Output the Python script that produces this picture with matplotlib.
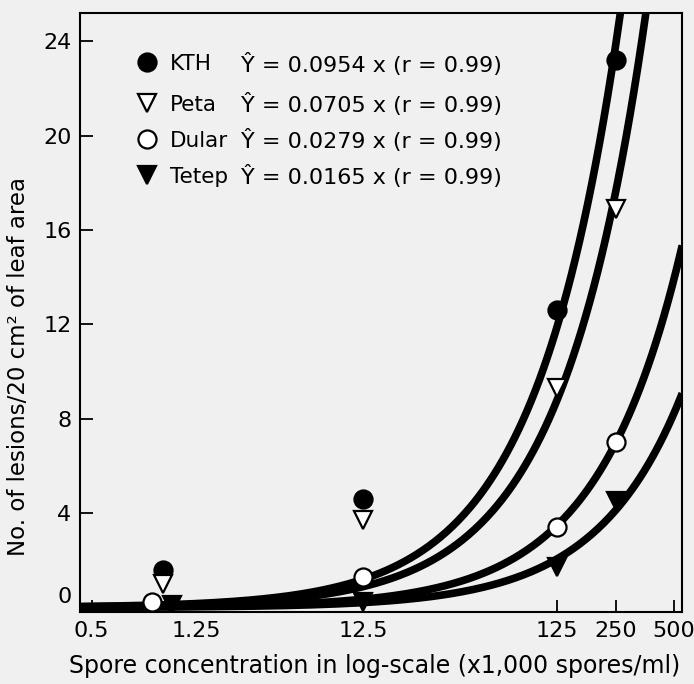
import numpy as np
import matplotlib.pyplot as plt
from matplotlib.transforms import ScaledTranslation

plt.rcParams['font.family'] = ['DejaVu Sans']

# spore concentration (x1,000 spores/ml) and lesion counts
KTH_X = [1.16, 12.5, 125, 250]
KTH_Y = [1.6, 4.6, 12.6, 23.2]
PETA_X = [1.16, 12.5, 125, 250]
PETA_Y = [1.0, 3.7, 9.3, 16.9]
DULAR_X = [1.02, 12.5, 125, 250]
DULAR_Y = [0.25, 1.3, 3.4, 7.0]
TETEP_X = [1.30, 12.5, 125, 250]
TETEP_Y = [0.1, 0.25, 1.7, 4.5]

NAMES = ['KTH', 'Peta', 'Dular', 'Tetep']
SLOPES = [0.0954, 0.0705, 0.0279, 0.0165]
EQS = ['Ŷ = 0.0954 x (r = 0.99)', 'Ŷ = 0.0705 x (r = 0.99)',
       'Ŷ = 0.0279 x (r = 0.99)', 'Ŷ = 0.0165 x (r = 0.99)']

XTICKS = [0.5, 1.25, 12.5, 125, 250, 500]
XTICKLABELS = ['0.5', '1.25', '12.5', '125', '250', '500']
YTICKS = [0, 4, 8, 12, 16, 20, 24]

MARKERS = ['o', 'v', 'o', 'v']
FACES = ['black', 'white', 'white', 'black']
BG = '#f0f0f0'

fig = plt.figure(figsize=(6.94, 6.84), dpi=100, facecolor=BG)
ax = fig.add_axes([0.115, 0.105, 0.868, 0.876], facecolor=BG)

XMIN, XMAX = 0.435, 550
ax.set_xscale('log')
ax.set_xlim(XMIN, XMAX)
ax.set_ylim(-0.2, 25.2)

xs = np.logspace(np.log10(XMIN), np.log10(XMAX), 300)
for a in SLOPES:
    ax.plot(xs, a * xs, color='black', lw=5.5, solid_capstyle='butt', zorder=2)

data = [(KTH_X, KTH_Y), (PETA_X, PETA_Y), (DULAR_X, DULAR_Y), (TETEP_X, TETEP_Y)]
for i, (x, y) in enumerate(data):
    ax.plot(x, y, ls='none', marker=MARKERS[i], ms=13, mfc=FACES[i],
            mec='black', mew=1.6, zorder=3)

# legend block
rows = [0.918, 0.850, 0.790, 0.730]
for i in range(4):
    ax.plot([0.111], [rows[i]], transform=ax.transAxes, marker=MARKERS[i], ms=13,
            mfc=FACES[i], mec='black', mew=1.6, ls='none')
    ax.text(0.150, rows[i], NAMES[i], transform=ax.transAxes, fontsize=15.5,
            va='center_baseline', ha='left')
    ax.text(0.268, rows[i], EQS[i], transform=ax.transAxes, fontsize=16,
            va='center_baseline', ha='left')

ax.set_xticks(XTICKS)
ax.set_xticklabels(XTICKLABELS)
ax.minorticks_off()
ax.set_yticks(YTICKS)
ax.tick_params(direction='in', length=9, width=1.3, labelsize=16, pad=6)
for s in ax.spines.values():
    s.set_linewidth(1.5)

# hand-placed labels in the original
xl = ax.get_xticklabels()
xl[1].set_transform(xl[1].get_transform() + ScaledTranslation(0.27, 0, fig.dpi_scale_trans))
yl = ax.get_yticklabels()
yl[0].set_transform(yl[0].get_transform() + ScaledTranslation(0, 0.12, fig.dpi_scale_trans))

ax.set_ylabel('No. of lesions/20 cm² of leaf area', fontsize=16.5)
ax.yaxis.set_label_coords(-0.083, 0.41)
ax.set_xlabel('Spore concentration in log-scale (x1,000 spores/ml)', fontsize=17)
ax.xaxis.set_label_coords(0.49, -0.07)

fig.savefig('out.png', dpi=100, facecolor=BG)
